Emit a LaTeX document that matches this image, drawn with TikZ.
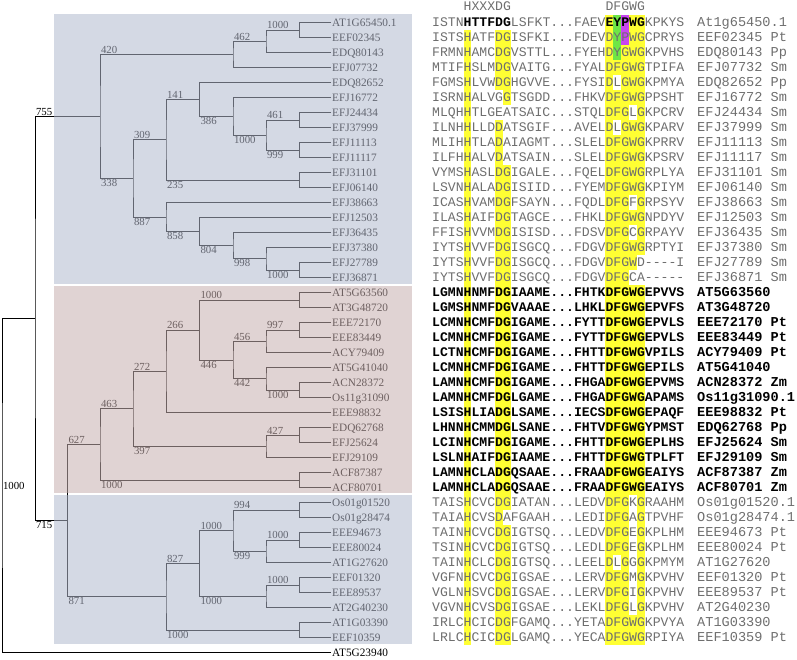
\documentclass[tikz,border=0pt]{standalone}
\usepackage{fontspec}
\setmainfont{Liberation Serif}
\setmonofont{Liberation Mono}
\usepackage{tikz}
\definecolor{seqgray}{RGB}{110,110,110}
\definecolor{hlyellow}{RGB}{255,255,51}
\definecolor{hlgreen}{RGB}{110,230,70}
\definecolor{hlmagenta}{RGB}{200,70,240}
\definecolor{cladeblue}{RGB}{177,185,205}
\definecolor{cladered}{RGB}{199,175,175}

\begin{document}
\begin{tikzpicture}[x=1pt, y=-1pt,
  br/.style={line width=0.9pt},
  leaf/.style={anchor=west, inner sep=1pt, text height=7.5pt, text depth=0pt, font=\fontsize{11.3}{13}\selectfont},
  bs/.style={inner sep=0.8pt, font=\fontsize{10.8}{12}\selectfont},
  clade/.style={fill opacity=0.55},
  seq/.style={anchor=west, inner sep=0pt, text height=7.5pt, text depth=0pt, text=seqgray, font=\ttfamily\fontsize{13.13}{15}\selectfont},
  bseq/.style={seq, text=black, font=\ttfamily\bfseries\fontsize{13.13}{15}\selectfont},
  nm/.style={seq, font=\ttfamily\fontsize{13.6}{15}\selectfont},
  bnm/.style={bseq, font=\ttfamily\bfseries\fontsize{13.6}{15}\selectfont}
]
\useasboundingbox (0,0) rectangle (797,659);

% leaves
\foreach \lbl [count=\i] in {AT1G65450.1,EEF02345,EDQ80143,EFJ07732,EDQ82652,EFJ16772,EFJ24434,EFJ37999,EFJ11113,EFJ11117,EFJ31101,EFJ06140,EFJ38663,EFJ12503,EFJ36435,EFJ37380,EFJ27789,EFJ36871,AT5G63560,AT3G48720,EEE72170,EEE83449,ACY79409,AT5G41040,ACN28372,Os11g31090,EEE98832,EDQ62768,EFJ25624,EFJ29109,ACF87387,ACF80701,Os01g01520,Os01g28474,EEE94673,EEE80024,AT1G27620,EEF01320,EEE89537,AT2G40230,AT1G03390,EEF10359,AT5G23940}
  \node[leaf] (lf\i) at (331,{7.5+15*\i}) {\lbl};

% cherries
\foreach \a in {1,7,9,11,17,19,21,25,28,31,33,35,38,41}{
  \pgfmathtruncatemacro\b{\a+1}
  \coordinate (ch\a) at (299.5,{15*\a+15});
  \draw[br] (lf\a.west) -| (ch\a) |- (lf\b.west);
}

% inner nodes
\coordinate (A) at (266,41.25);
\coordinate (B) at (233,54.375);
\coordinate (C) at (100,116.37);
\coordinate (D) at (133,178.36);
\coordinate (E) at (166,139.69);
\coordinate (F) at (166,217.03);
\coordinate (G) at (199.5,99.375);
\coordinate (H) at (233,116.25);
\coordinate (I) at (266,135);
\coordinate (J) at (199.5,231.56);
\coordinate (K) at (233,245.625);
\coordinate (M) at (266,258.75);
\coordinate (N) at (266,341.25);
\coordinate (O) at (266,378.75);
\coordinate (P) at (233,360);
\coordinate (Q) at (199.5,330);
\coordinate (R) at (166,371.25);
\coordinate (S) at (266,446.25);
\coordinate (T) at (133,408.75);
\coordinate (U) at (100,444.375);
\coordinate (V) at (266,551.25);
\coordinate (W) at (233,530.625);
\coordinate (X) at (266,596.25);
\coordinate (Y) at (199.5,563.44);
\coordinate (Z) at (166,596.72);
\coordinate (AA) at (67.5,520.55);
\coordinate (BB) at (35,318.46);
\coordinate (rt) at (2,485.48);

\draw[br] (ch1) -| (A) |- (lf3.west);
\draw[br] (A) -| (B) |- (lf4.west);
\draw[br] (B) -| (C) |- (D);
\draw[br] (E) -| (D) |- (F);
\draw[br] (G) -| (E) |- (ch11);
\draw[br] (lf5.west) -| (G) |- (H);
\draw[br] (lf6.west) -| (H) |- (I);
\draw[br] (ch7) -| (I) |- (ch9);
\draw[br] (lf13.west) -| (F) |- (J);
\draw[br] (lf14.west) -| (J) |- (K);
\draw[br] (lf15.west) -| (K) |- (M);
\draw[br] (lf16.west) -| (M) |- (ch17);
\draw[br] (ch21) -| (N) |- (lf23.west);
\draw[br] (lf24.west) -| (O) |- (ch25);
\draw[br] (N) -| (P) |- (O);
\draw[br] (ch19) -| (Q) |- (P);
\draw[br] (Q) -| (R) |- (lf27.west);
\draw[br] (ch28) -| (S) |- (lf30.west);
\draw[br] (R) -| (T) |- (S);
\draw[br] (T) -| (U) |- (ch31);
\draw[br] (ch35) -| (V) |- (lf37.west);
\draw[br] (ch33) -| (W) |- (V);
\draw[br] (ch38) -| (X) |- (lf40.west);
\draw[br] (W) -| (Y) |- (X);
\draw[br] (Y) -| (Z) |- (ch41);
\draw[br] (U) -| (AA) |- (Z);
\draw[br] (C) -| (BB) |- (AA);
\draw[br] (BB) -| (rt) |- (lf43.west);

% bootstrap values
\foreach \p/\c/\t [count=\k] in {A/ch1/1000,B/A/462,C/B/420,BB/C/755,D/E/309,E/G/141,I/ch7/461,Q/ch19/1000,N/ch21/997,P/N/456,R/Q/266,T/R/272,U/T/463,S/ch28/427,AA/U/627,W/ch33/994,V/ch35/1000,Y/W/1000,X/ch38/1000,Z/Y/827}
  \node[bs, anchor=south west] (bu\k) at (\p |- \c) {\t};
\foreach \p/\c/\t [count=\k] in {C/D/338,D/F/887,E/ch11/235,G/H/386,H/I/1000,I/ch9/999,F/J/858,J/K/804,K/M/998,M/ch17/1000,Q/P/446,P/O/442,O/ch25/1000,T/S/397,U/ch31/1000,W/V/999,Y/X/1000,Z/ch41/1000,AA/Z/871,BB/AA/715}
  \node[bs, anchor=north west] (bd\k) at (\p |- \c) {\t};
\node[bs, anchor=west] (brt) at (rt) {1000};

% clades
\fill[cladeblue, clade] (54,14) rectangle (412,284);
\fill[cladered, clade] (54,286) rectangle (412,493);
\fill[cladeblue, clade] (54,495) rectangle (412,644);

% alignment shading
\fill[hlyellow] (463.52,30) rectangle ++(7.88,615);
\fill[hlyellow] (495.04,30) rectangle ++(15.76,615);
\fill[hlyellow] (605.36,15) rectangle ++(39.4,630);
\foreach \c/\r in {8/6,8/7,9/7,9/8,9/9,9/10,9/34,23/5,25/7,23/8,25/13,25/15,26/17,25/18,26/18,25/33,25/34,25/35,25/36,25/37,25/38,25/39,25/40,23/37}
  \fill[white] ({432+7.88*\c},{15*\r}) rectangle ++(7.88,15);
\foreach \r in {1,2,3}
  \fill[hlgreen] ({432+7.88*23},{15*\r}) rectangle ++(7.88,15);
\foreach \r in {1,2}
  \fill[hlmagenta] ({432+7.88*24},{15*\r}) rectangle ++(7.88,15);

% alignment text
\node[seq] (hd1) at (463.52,6.5) {HXXXDG};
\node[seq] (hd2) at (605.36,6.5) {DFGWG};
\node[seq] (s1) at (432,22.5) {ISTN\textbf{\color{black}HTTFDG}LSFKT...FAEV\textbf{\color{black}EYPWG}KPKYS};
\node[nm] (n1) at (697,22.5) {At1g65450.1};
\foreach \i/\lft/\rgt/\nam in {2/ISTSHATFDGISFKI/FDEVDYPWGCPRYS/{EEF02345 Pt},
  3/FRMNHAMCDGVSTTL/FYEHDYGWGKPVHS/{EDQ80143 Pp},
  4/MTIFHSLMDGVAITG/FYALDFGWGTPIFA/{EFJ07732 Sm},
  5/FGMSHLVWDGHGVVE/FYSIDLGWGKPMYA/{EDQ82652 Pp},
  6/ISRNHALVGGTSGDD/FHKVDFGWGPPSHT/{EFJ16772 Sm},
  7/MLQHHTLGEATSAIC/STQLDFGLGKPCRV/{EFJ24434 Sm},
  8/ILNHHLLDDATSGIF/AVELDLGWGKPARV/{EFJ37999 Sm},
  9/MLIHHTLADAIAGMT/SLELDFGWGKPRRV/{EFJ11113 Sm},
  10/ILFHHALVDATSAIN/SLELDFGWGKPSRV/{EFJ11117 Sm},
  11/VYMSHASLDGIGALE/FQELDFGWGRPLYA/{EFJ31101 Sm},
  12/LSVNHALADGISIID/FYEMDFGWGKPIYM/{EFJ06140 Sm},
  13/ICASHVAMDGFSAYN/FQDLDFGFGRPSYV/{EFJ38663 Sm},
  14/ILASHAIFDGTAGCE/FHKLDFGWGNPDYV/{EFJ12503 Sm},
  15/FFISHVVMDGISISD/FDSVDFGCGRPAYV/{EFJ36435 Sm},
  16/IYTSHVVFDGISGCQ/FDGVDFGWGRPTYI/{EFJ37380 Sm},
  17/IYTSHVVFDGISGCQ/FDGVDFGWD----I/{EFJ27789 Sm},
  18/IYTSHVVFDGISGCQ/FDGVDFGCA-----/{EFJ36871 Sm},
  33/TAISHCVCDGIATAN/LEDVDFGKGRAAHM/{Os01g01520.1},
  34/TAIAHCVSDAFGAAH/LEDIDFGAGTPVHF/{Os01g28474.1},
  35/TAINHCVCDGIGTSQ/LEDVDFGEGKPLHM/{EEE94673 Pt},
  36/TSINHCVCDGIGTSQ/LEDLDFGEGKPLHM/{EEE80024 Pt},
  37/TAINHCLCDGIGTSQ/LEELDLGGGKPMYM/{AT1G27620},
  38/VGFNHCVCDGIGSAE/LERVDFGMGKPVHV/{EEF01320 Pt},
  39/VGLNHSVCDGIGSAE/LERVDFGIGKPVHV/{EEE89537 Pt},
  40/VGVNHCVSDGIGSAE/LEKLDFGLGKPVHV/{AT2G40230},
  41/IRLCHCICDGFGAMQ/YETADFGWGKPVYA/{AT1G03390},
  42/LRLCHCICDGLGAMQ/YECADFGWGRPIYA/{EEF10359 Pt}}{
  \node[seq] (s\i) at (432,{7.5+15*\i}) {\lft...\rgt};
  \node[nm] (n\i) at (697,{7.5+15*\i}) {\nam};
}
\foreach \i/\lft/\rgt/\nam in {19/LGMNHNMFDGIAAME/FHTKDFGWGEPVVS/{AT5G63560},
  20/LGMSHNMFDGVAAAE/LHKLDFGWGEPVFS/{AT3G48720},
  21/LCMNHCMFDGIGAME/FYTTDFGWGEPVLS/{EEE72170 Pt},
  22/LCMNHCMFDGIGAME/FYTTDFGWGEPVLS/{EEE83449 Pt},
  23/LCTNHCMFDGIGAME/FHTTDFGWGVPILS/{ACY79409 Pt},
  24/LCMNHCMFDGIGAME/FHTTDFGWGEPILS/{AT5G41040},
  25/LAMNHCMFDGIGAME/FHGADFGWGEPVMS/{ACN28372 Zm},
  26/LAMNHCMFDGLGAME/FHGADFGWGAPAMS/{Os11g31090.1},
  27/LSISHLIADGLSAME/IECSDFGWGEPAQF/{EEE98832 Pt},
  28/LHNNHCMMDGLSANE/FHTVDFGWGYPMST/{EDQ62768 Pp},
  29/LCINHCMFDGIGAME/FHTTDFGWGEPLHS/{EFJ25624 Sm},
  30/LSLNHAIFDGIAAME/FHTTDFGWGTPLFT/{EFJ29109 Sm},
  31/LAMNHCLADGQSAAE/FRAADFGWGEAIYS/{ACF87387 Zm},
  32/LAMNHCLADGQSAAE/FRAADFGWGEAIYS/{ACF80701 Zm}}{
  \node[bseq] (s\i) at (432,{7.5+15*\i}) {\lft...\rgt};
  \node[bnm] (n\i) at (697,{7.5+15*\i}) {\nam};
}
\end{tikzpicture}
\end{document}
